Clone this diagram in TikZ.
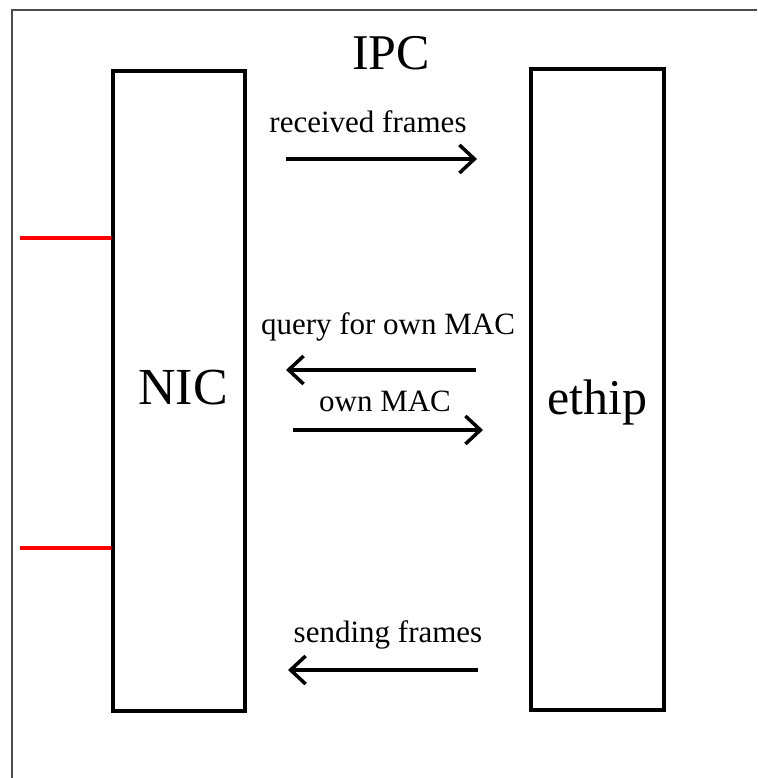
\documentclass[tikz,border=0pt]{standalone}
\usepackage{fontspec}
\setmainfont{Liberation Serif}
\usetikzlibrary{arrows.meta,calc}
\begin{document}
\begin{tikzpicture}[x=1pt,y=1pt,
  box/.style={draw=black,line width=3.5pt,rectangle,inner sep=0pt,minimum width=132pt,minimum height=640pt},
  big/.style={anchor=base,inner sep=0pt,font=\fontsize{50}{56}\selectfont},
  lbl/.style={anchor=base,inner sep=0pt,font=\fontsize{31}{36}\selectfont},
  flow/.style={line width=3.5pt,-{Straight Barb[length=15pt,width=28pt,line width=3.5pt]}},
  wire/.style={draw=red,line width=4pt}]
\useasboundingbox (0,0) rectangle (757,778);
\draw[black!70,line width=1.3pt] (12,0) -- (12,768) -- (757,768);
\node[box] (nic) at (179,387) {};
\node[box,minimum width=133pt,minimum height=641pt] (ethip) at (597.5,388.5) {};
\node[big] (ipc) at (391,708) {IPC};
\node[big,font=\fontsize{52}{58}\selectfont] (nictext) at (183,373) {NIC};
\node[big] (ethiptext) at (597.5,363) {ethip};
\node[lbl] (recvlbl) at (368,645) {received frames};
\node[lbl] (querylbl) at (388,443) {query for own MAC};
\node[lbl] (ownlbl) at (385,366) {own MAC};
\node[lbl] (sendlbl) at (388,135) {sending frames};
\coordinate (r1) at (286,619);
\coordinate (r2) at (477,619);
\coordinate (q1) at (476,408);
\coordinate (q2) at (286,408);
\coordinate (o1) at (293,348);
\coordinate (o2) at (483,348);
\coordinate (s1) at (478,108);
\coordinate (s2) at (288,108);
\draw[flow] (r1) -- (r2);
\draw[flow] (q1) -- (q2);
\draw[flow] (o1) -- (o2);
\draw[flow] (s1) -- (s2);
\coordinate (p1) at (20,540);
\coordinate (p2) at (20,230);
\draw[wire] (p1) -- (p1 -| nic.west);
\draw[wire] (p2) -- (p2 -| nic.west);
\end{tikzpicture}
\end{document}
